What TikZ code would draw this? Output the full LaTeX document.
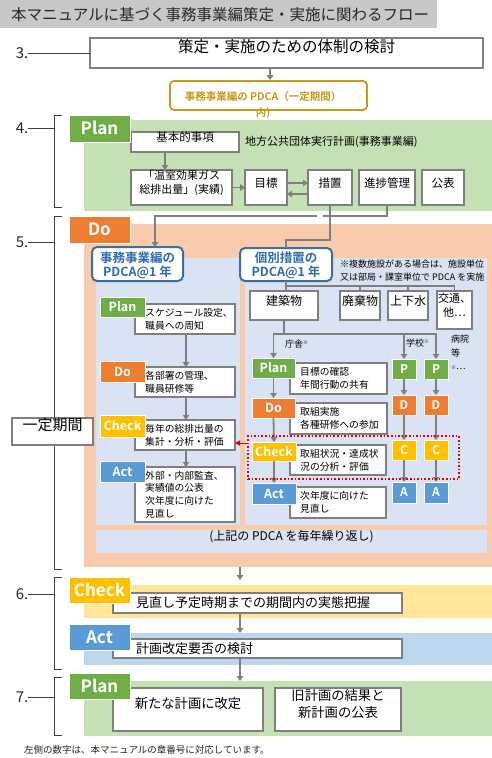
\documentclass[tikz,border=0pt]{standalone}
\usepackage{fontspec}
\setmainfont{Noto Sans CJK JP}[BoldFont={Noto Sans CJK JP Bold}]
\usetikzlibrary{fit,arrows.meta}
\definecolor{titlegray}{HTML}{C8C8C8}
\definecolor{titletext}{HTML}{262626}
\definecolor{plangreen}{HTML}{70AD47}
\definecolor{planbg}{HTML}{C5E0B4}
\definecolor{doorange}{HTML}{ED7D31}
\definecolor{dobg}{HTML}{F8CBAD}
\definecolor{checkgold}{HTML}{FFC000}
\definecolor{checkbg}{HTML}{FFE699}
\definecolor{actblue}{HTML}{5B9BD5}
\definecolor{actbg}{HTML}{BDD7EE}
\definecolor{panelblue}{HTML}{DAE3F3}
\definecolor{boxgray}{HTML}{7F7F7F}
\definecolor{arrowgray}{HTML}{7F7F7F}
\definecolor{brkgray}{HTML}{404040}
\definecolor{pdcablue}{HTML}{3C6E9E}
\definecolor{pdcatext}{HTML}{2F6DB0}
\definecolor{goldline}{HTML}{C99A1A}
\definecolor{redline}{HTML}{E00000}
\newcommand{\fsz}[2]{\fontsize{#1pt}{#2pt}\selectfont}
\tikzset{
  rect/.style n args={4}{minimum width={(#3-#1)*1pt}, minimum height={(#4-#2)*1pt}, at={({(#1+#3)/2},{(#2+#4)/2})}},
  bgbox/.style={inner sep=0pt, outer sep=0pt, draw=none},
  wbox/.style={draw=boxgray, line width=1.3pt, fill=white, inner sep=0pt, outer sep=0pt, align=center},
  lab/.style={draw=white, line width=0.8pt, inner sep=0pt, outer sep=0pt, text=white},
  biglab/.style={lab, font=\fsz{17}{18}\bfseries, text height=12.4pt, text depth=0pt},
  smlab/.style={lab, font=\fsz{12.5}{14}\bfseries, text height=9.1pt, text depth=0pt},
  letlab/.style={lab, font=\fsz{12}{14}\bfseries, text height=8.8pt, text depth=0pt},
  arr/.style={draw=arrowgray, line width=1.8pt, -{Triangle[width=6.5pt,length=5pt]}},
  conn/.style={draw=arrowgray, line width=1.8pt},
  brk/.style={draw=brkgray, line width=0.9pt},
  num/.style={inner sep=0pt, font=\fsz{15}{18}, text=titletext},
  ptext/.style={anchor=west, inner sep=0pt, align=left, font=\fsz{9.8}{13}},
  blubox/.style={draw=pdcablue, line width=2pt, fill=white, rounded corners=5pt, inner sep=0pt, outer sep=0pt},
  blutext/.style={inner sep=0pt, text=pdcatext, font=\fsz{12.5}{16}\bfseries, text height=9.5pt, text depth=0pt},
}
\begin{document}
\begin{tikzpicture}[x=1pt,y=-1pt]
\useasboundingbox (0,0) rectangle (492,758);
\fill[white] (0,0) rectangle (492,758);

% ---------- title
\node[bgbox, fill=titlegray, fit={(0,0)(437,28)}] (titlebar) {};
\node[anchor=west, inner sep=0pt, font=\fsz{15.5}{18}, text=titletext] (title) at (11,14.5) {本マニュアルに基づく事務事業編策定・実施に関わるフロー};

% ---------- backgrounds
\node[bgbox, fill=planbg, fit={(84,120)(492,211)}] (plan4bg) {};
\node[bgbox, fill=dobg, fit={(84,224)(492,567)}] (dobg) {};
\node[bgbox, fill=panelblue, fit={(96,258)(240,525)}] (lpanel) {};
\node[bgbox, fill=panelblue, fit={(245,258)(487,525)}] (rpanel) {};
\node[bgbox, fill=panelblue, fit={(96,530)(487,553)}, font=\fsz{12}{14}] (band) {(上記の PDCA を毎年繰り返し)};
\node[bgbox, fill=checkbg, fit={(84,585)(492,618)}] (checkbg) {};
\node[bgbox, fill=actbg, fit={(84,633)(492,665)}] (actbg) {};
\node[bgbox, fill=planbg, fit={(84,681)(492,736)}] (plan7bg) {};

% ---------- section numbers and brackets
\node[num] (n3) at (22,53) {3.};
\node[num] (n4) at (22,128) {4.};
\node[num] (n5) at (22,242) {5.};
\node[num] (n6) at (22,594) {6.};
\node[num] (n7) at (22,697) {7.};
\draw[brk] (n4.east) -- (54,128);
\draw[brk] (62,115) -- (54,115) -- (54,207) -- (62,207);
\draw[brk] (n5.east) -- (54,242);
\draw[brk] (62,216) -- (54,216) -- (54,569) -- (62,569);
\draw[brk] (n6.east) -- (54,594);
\draw[brk] (62,577) -- (54,577) -- (54,669) -- (62,669);
\draw[brk] (n7.east) -- (54,697);
\draw[brk] (62,677) -- (54,677) -- (54,735) -- (62,735);
\node[draw=boxgray, line width=1.3pt, fill=white, inner sep=0pt, fit={(12,418)(93,445)}, font=\fsz{15}{18}] (ichitei) {一定期間};

% ---------- section 3
\node[wbox, fit={(90,38)(483,68)}, font=\fsz{15.5}{18}] (box3) {策定・実施のための体制の検討};
\draw[brk] (n3.east) -- (box3.west);
\node[draw=goldline, line width=1.8pt, fill=white, rounded corners=4pt, inner sep=0pt, fit={(170,81)(367,110)}] (pdca) {};
\node[inner sep=0pt, align=center, text=goldline, font=\fsz{10.5}{16}\bfseries] (pdcatxt) at (263,105) {事務事業編の PDCA（一定期間）\\内)};
\draw[arr] (box3.south -| 270,0) -- (pdca.north -| 270,0);

% ---------- section 4 (Plan)
\node[wbox, fit={(131,132)(239,152)}, font=\fsz{11.5}{14}] (kihon) {基本的事項};
\node[anchor=west, inner sep=0pt, font=\fsz{11}{13}] (jikko) at (245,142) {地方公共団体実行計画(事務事業編)};
\node[wbox, fit={(131,170)(232,205)}, font=\fsz{11}{14}] (onshitsu) {「温室効果ガス\\総排出量」(実績)};
\node[wbox, fit={(245,170)(287,205)}, font=\fsz{11.5}{14}] (mokuhyo) {目標};
\node[wbox, fit={(308,170)(352,205)}, font=\fsz{11.5}{14}] (sochi) {措置};
\node[wbox, fit={(359,170)(415,205)}, font=\fsz{11.5}{14}] (shinchoku) {進捗管理};
\node[wbox, fit={(422,170)(464,205)}, font=\fsz{11.5}{14}] (kohyo) {公表};
\node[biglab, fill=plangreen, rect={69}{115}{130}{142}] (plan4lbl) {Plan};
\draw[arr] (kihon.south -| 165,0) -- (onshitsu.north -| 165,0);
\draw[arr] (onshitsu.east) -- (mokuhyo.west);
\draw[arr] (mokuhyo.east |- 0,183) -- (sochi.west |- 0,183);
\draw[arr] (sochi.west |- 0,194) -- (mokuhyo.east |- 0,194);

% ---------- section 5 (Do)
\node[biglab, fill=doorange, rect={69}{216}{130}{243}] (dolbl) {Do};
\node[blubox, fit={(92,247)(183,281)}] (jimu) {};
\node[blutext] (jimu1) at (137.5,257.5) {事務事業編の};
\node[blutext] (jimu2) at (137.5,271.5) {PDCA@1 年};
\node[blubox, fit={(240,248)(332,281)}] (kobetsu) {};
\node[blutext] (kob1) at (286,257.5) {個別措置の};
\node[blutext] (kob2) at (286,271.5) {PDCA@1 年};
\node[anchor=west, inner sep=0pt, align=left, font=\fsz{9}{13}] (note) at (340,270.5) {※複数施設がある場合は、施設単位\\又は部局・課室単位で PDCA を実施};

\coordinate (jc1) at (155,216);
\draw[arr] (shinchoku.south) |- (jc1) -- (jimu.north -| jc1);
\draw[white, line width=6pt] (320,212) -- (320,220);
\coordinate (kc1) at (286,240);
\draw[conn] (sochi.south) |- (kc1) -- (kobetsu.north -| kc1);

% categories
\node[wbox, fit={(250,291)(318,320)}, font=\fsz{12}{14}] (kenchiku) {建築物};
\node[wbox, fit={(340,291)(380,320)}, font=\fsz{12}{14}] (haiki) {廃棄物};
\node[wbox, fit={(388,291)(428,320)}, font=\fsz{12}{14}] (joge) {上下水};
\node[wbox, fit={(437,291)(472,329)}, font=\fsz{11}{14}] (kotsu) {交通、\\他…};
\coordinate (t1) at (286,286);
\draw[conn] (kobetsu.south -| t1) -- (kenchiku.north -| t1);
\draw[conn] (t1) -| (haiki.north);
\draw[conn] (t1) -| (joge.north);
\draw[conn] (t1) -| (kotsu.north);

% left panel
\node[wbox, fit={(135,304)(235,334)}] (jplanbox) {};
\node[wbox, fit={(135,367)(235,397)}] (jdobox) {};
\node[wbox, fit={(135,420)(235,450)}] (jcheckbox) {};
\node[wbox, fit={(135,467)(235,522)}] (jactbox) {};
\node[ptext] (jplantx) at (145,319) {スケジュール設定、\\職員への周知};
\node[ptext] (jdotx) at (145,382) {各部署の管理、\\職員研修等};
\node[ptext] (jchecktx) at (145,435) {毎年の総排出量の\\集計・分析・評価};
\node[ptext, font=\fsz{9.8}{12.8}] (jacttx) at (145,494.5) {外部・内部監査、\\実績値の公表\\次年度に向けた\\見直し};
\node[smlab, fill=plangreen, rect={100}{297}{145}{317}] (jplan) {Plan};
\node[smlab, fill=doorange, rect={100}{361}{145}{382}] (jdo) {Do};
\node[smlab, fill=checkgold, rect={100}{415}{145}{437}] (jcheck) {Check};
\node[smlab, fill=actblue, rect={100}{461}{145}{482}] (jact) {Act};
\draw[arr] (jplanbox.south -| 186,0) -- (jdobox.north -| 186,0);
\draw[arr] (jdobox.south -| 186,0) -- (jcheckbox.north -| 186,0);
\draw[arr] (jcheckbox.south -| 186,0) -- (jactbox.north -| 186,0);

% right panel
\node[wbox, fit={(290,363)(387,394)}] (rplanbox) {};
\node[wbox, fit={(290,403)(387,434)}] (rdobox) {};
\node[wbox, fit={(290,445)(386,475)}] (rcheckbox) {};
\node[wbox, fit={(290,487)(386,518)}] (ractbox) {};
\node[ptext] (rplantx) at (300,378.5) {目標の確認\\年間行動の共有};
\node[ptext] (rdotx) at (300,418.5) {取組実施\\各種研修への参加};
\node[ptext] (rchecktx) at (300,460) {取組状況・達成状\\況の分析・評価};
\node[ptext] (racttx) at (300,502.5) {次年度に向けた\\見直し};
\node[smlab, fill=plangreen, rect={252}{358}{295}{378}] (rplan) {Plan};
\node[smlab, fill=doorange, rect={252}{398}{295}{418}] (rdo) {Do};
\node[smlab, fill=checkgold, rect={252}{442}{296}{461}] (rcheck) {Check};
\node[smlab, fill=actblue, rect={252}{483}{296}{504}] (ract) {Act};
\node[letlab, fill=plangreen, rect={392}{359}{416}{379}] (p1) {P};
\node[letlab, fill=plangreen, rect={424}{359}{448}{379}] (p2) {P};
\node[letlab, fill=doorange, rect={392}{395}{416}{415}] (d1) {D};
\node[letlab, fill=doorange, rect={424}{395}{448}{415}] (d2) {D};
\node[letlab, fill=checkgold, rect={392}{440}{416}{460}] (c1) {C};
\node[letlab, fill=checkgold, rect={424}{440}{448}{460}] (c2) {C};
\node[letlab, fill=actblue, rect={392}{482}{416}{503}] (a1) {A};
\node[letlab, fill=actblue, rect={424}{482}{448}{503}] (a2) {A};

\coordinate (t2) at (284,334);
\draw[conn] (kenchiku.south -| t2) -- (t2);
\draw[arr] (t2) -| (rplan.north);
\draw[arr] (t2) -| (p1.north);
\draw[arr] (t2) -| (p2.north);
\node[anchor=west, inner sep=0pt, font=\fsz{9}{11}] (chosha) at (285,344) {庁舎{\fsz{5}{5}\raisebox{3pt}{※}}};
\node[anchor=west, inner sep=0pt, font=\fsz{9}{11}] (gakko) at (406,343) {学校{\fsz{5}{5}\raisebox{3pt}{※}}};
\node[anchor=north west, inner sep=0pt, align=left, font=\fsz{9}{13.5}] (byoin) at (451,335) {病院\\等\\{\fsz{5}{5}※}…};

\draw[arr] (rplan.south) -- (rdo.north);
\draw[arr] (rdo.south) -- (rcheck.north);
\draw[arr] (rcheck.south) -- (ract.north);
\draw[arr] (p1) -- (d1);
\draw[arr] (d1) -- (c1);
\draw[arr] (c1) -- (a1);
\draw[arr] (p2) -- (d2);
\draw[arr] (d2) -- (c2);
\draw[arr] (c2) -- (a2);

\node[draw=redline, dotted, line width=1.6pt, inner sep=0pt, fit={(248,436)(459,479)}] (redbox) {};
\draw[redline, line width=1pt, -{Triangle[width=5pt,length=5pt]}] (redbox.west |- 0,443) -- (jcheckbox.east |- 0,443);

% ---------- section 6
\node[wbox, fit={(113,593)(402,613)}] (checkbox) {};
\node[anchor=west, inner sep=0pt, font=\fsz{13}{15}] (checktx) at (136,603) {見直し予定時期までの期間内の実態把握};
\node[biglab, fill=checkgold, rect={69}{577}{130}{603}] (checklbl) {Check};
\node[wbox, fit={(113,639)(402,658)}] (actbox) {};
\node[anchor=west, inner sep=0pt, font=\fsz{13}{15}] (acttx) at (136,648.5) {計画改定要否の検討};
\node[biglab, fill=actblue, rect={69}{624}{130}{650}] (actlbl) {Act};
\coordinate (c6) at (240,580);
\draw[arr] (dobg.south -| c6) -- (c6);
\draw[arr] (checkbox.south -| c6) -- (actbg.north -| c6);
\draw[arr] (actbox.south -| c6) -- (plan7bg.north -| c6);

% ---------- section 7
\node[wbox, fit={(113,688)(263,731)}, font=\fsz{13.3}{17}] (newplan) {新たな計画に改定};
\node[wbox, fit={(275,688)(401,731)}, font=\fsz{13.3}{17}] (publish) {旧計画の結果と\\新計画の公表};
\node[biglab, fill=plangreen, rect={69}{673}{130}{699}] (plan7lbl) {Plan};

\node[anchor=west, inner sep=0pt, font=\fsz{9.5}{11}, text=titletext] (foot) at (24,750) {左側の数字は、本マニュアルの章番号に対応しています。};
\end{tikzpicture}
\end{document}
